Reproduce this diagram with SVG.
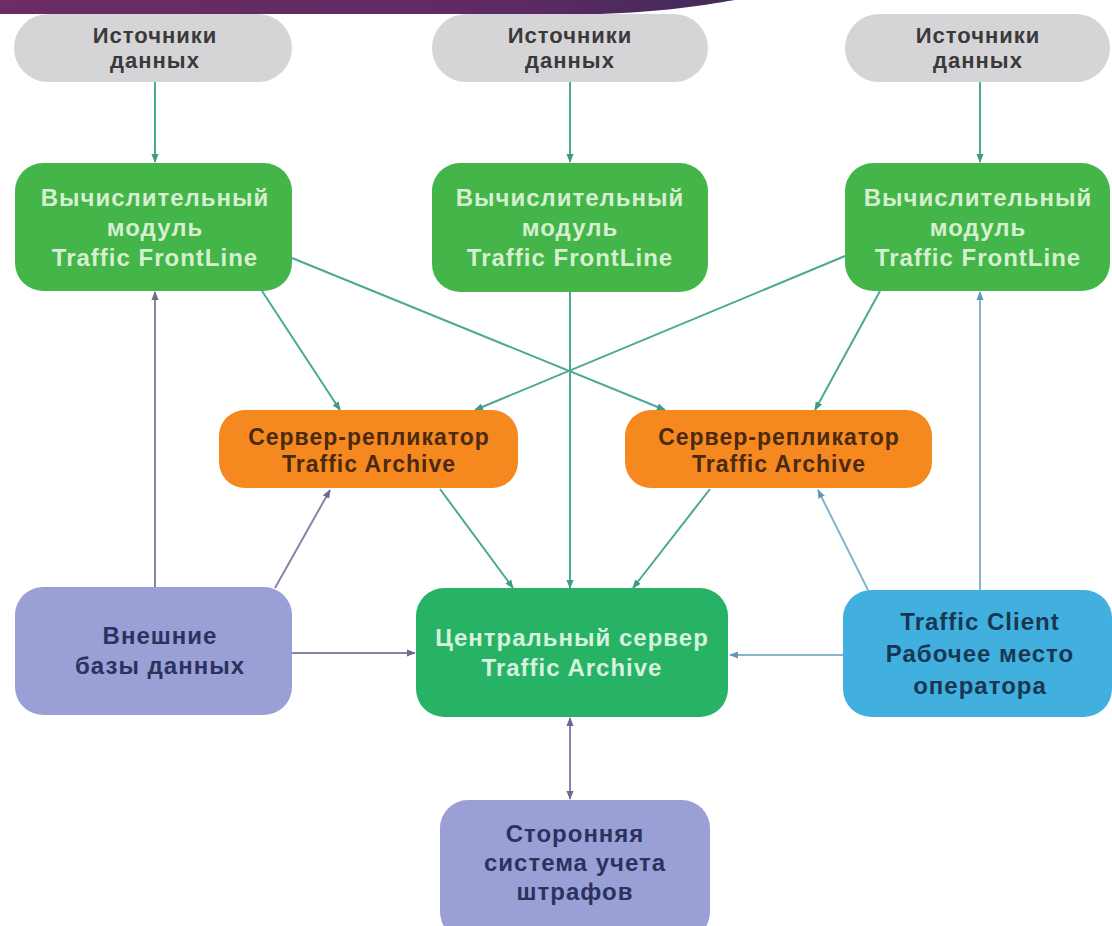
<svg xmlns="http://www.w3.org/2000/svg" width="1112" height="926" viewBox="0 0 1112 926">
<defs>
<linearGradient id="band" x1="0" y1="0" x2="1" y2="0">
<stop offset="0" stop-color="#6c2c66"/>
<stop offset="0.7" stop-color="#5e2a64"/>
<stop offset="1" stop-color="#3f2a58"/>
</linearGradient>
<marker id="aT" viewBox="0 0 10 10" refX="9" refY="5" markerWidth="9" markerHeight="9" markerUnits="userSpaceOnUse" orient="auto-start-reverse"><path d="M0,1 L10,5 L0,9 z" fill="#3f9a88"/></marker>
<marker id="aP" viewBox="0 0 10 10" refX="9" refY="5" markerWidth="9" markerHeight="9" markerUnits="userSpaceOnUse" orient="auto-start-reverse"><path d="M0,1 L10,5 L0,9 z" fill="#6f6890"/></marker>
<marker id="aB" viewBox="0 0 10 10" refX="9" refY="5" markerWidth="9" markerHeight="9" markerUnits="userSpaceOnUse" orient="auto-start-reverse"><path d="M0,1 L10,5 L0,9 z" fill="#5f9ab8"/></marker>
</defs>
<style>
text{font-family:"Liberation Sans",Arial,sans-serif;text-anchor:middle;font-weight:bold;letter-spacing:1px}
.src rect{fill:#d5d5d7}
.src text{fill:#3a3a3a;font-size:22px}
.fl rect{fill:#43b549}
.fl text{fill:#d6f0cf;font-size:24px}
.rep rect{fill:#f5891f}
.rep text{fill:#4b2a10;font-size:23px}
.pur rect{fill:#9aa0d6}
.pur text{fill:#2c325e;font-size:24px}
.cen rect{fill:#27b266}
.cen text{fill:#d6f3de;font-size:24px}
.cli rect{fill:#41b0df}
.cli text{fill:#173752;font-size:24px}
.t{stroke:#4aa893;stroke-width:2;fill:none;marker-end:url(#aT)}
.p{stroke:#8a83a8;stroke-width:2;fill:none;marker-end:url(#aP)}
.b{stroke:#86b6cc;stroke-width:2;fill:none;marker-end:url(#aB)}
</style>
<rect width="1112" height="926" fill="#ffffff"/>
<path d="M0,0 H735 C700,6 660,12 600,14 H0 Z" fill="url(#band)"/>

<g id="connectors">
<line class="t" x1="155" y1="82" x2="155" y2="162"/>
<line class="t" x1="570" y1="82" x2="570" y2="162"/>
<line class="t" x1="980" y1="82" x2="980" y2="162"/>
<line class="t" x1="262" y1="291" x2="340" y2="410"/>
<line class="t" x1="292" y1="258" x2="665" y2="410"/>
<line class="t" x1="845" y1="256" x2="475" y2="410"/>
<line class="t" x1="880" y1="291" x2="815" y2="410"/>
<line class="t" x1="570" y1="292" x2="570" y2="588"/>
<line class="t" x1="440" y1="489" x2="513" y2="588"/>
<line class="t" x1="710" y1="489" x2="633" y2="588"/>
<line class="p" x1="155" y1="587" x2="155" y2="292"/>
<line class="p" x1="275" y1="588" x2="330" y2="490"/>
<line class="p" x1="292" y1="653" x2="415" y2="653"/>
<line class="p" x1="570" y1="718" x2="570" y2="799" style="marker-start:url(#aP)"/>
<line class="b" x1="980" y1="590" x2="980" y2="292"/>
<line class="b" x1="868" y1="590" x2="818" y2="490"/>
<line class="b" x1="843" y1="655" x2="730" y2="655"/>
</g>

<g id="src1" class="src"><rect x="14" y="14" width="278" height="68" rx="34"/><text x="155" y="43">Источники</text><text x="155" y="68">данных</text></g>
<g id="src2" class="src"><rect x="432" y="14" width="276" height="68" rx="34"/><text x="570" y="43">Источники</text><text x="570" y="68">данных</text></g>
<g id="src3" class="src"><rect x="845" y="14" width="265" height="68" rx="34"/><text x="978" y="43">Источники</text><text x="978" y="68">данных</text></g>

<g id="fl1" class="fl"><rect x="15" y="163" width="277" height="128" rx="28"/><text x="155" y="206">Вычислительный</text><text x="155" y="236">модуль</text><text x="155" y="266">Traffic FrontLine</text></g>
<g id="fl2" class="fl"><rect x="432" y="163" width="276" height="129" rx="28"/><text x="570" y="206">Вычислительный</text><text x="570" y="236">модуль</text><text x="570" y="266">Traffic FrontLine</text></g>
<g id="fl3" class="fl"><rect x="845" y="163" width="265" height="128" rx="28"/><text x="978" y="206">Вычислительный</text><text x="978" y="236">модуль</text><text x="978" y="266">Traffic FrontLine</text></g>

<g id="rep1" class="rep"><rect x="219" y="410" width="299" height="78" rx="26"/><text x="369" y="445">Сервер-репликатор</text><text x="369" y="472">Traffic Archive</text></g>
<g id="rep2" class="rep"><rect x="625" y="410" width="307" height="78" rx="26"/><text x="779" y="445">Сервер-репликатор</text><text x="779" y="472">Traffic Archive</text></g>

<g id="ext" class="pur"><rect x="15" y="587" width="277" height="128" rx="28"/><text x="160" y="644">Внешние</text><text x="160" y="674">базы данных</text></g>
<g id="central" class="cen"><rect x="416" y="588" width="312" height="129" rx="28"/><text x="572" y="646">Центральный сервер</text><text x="572" y="676">Traffic Archive</text></g>
<g id="client" class="cli"><rect x="843" y="590" width="269" height="127" rx="28"/><text x="980" y="630">Traffic Client</text><text x="980" y="662">Рабочее место</text><text x="980" y="694">оператора</text></g>
<g id="fines" class="pur"><rect x="440" y="800" width="270" height="140" rx="28"/><text x="575" y="842">Сторонняя</text><text x="575" y="871">система учета</text><text x="575" y="900">штрафов</text></g>
</svg>
